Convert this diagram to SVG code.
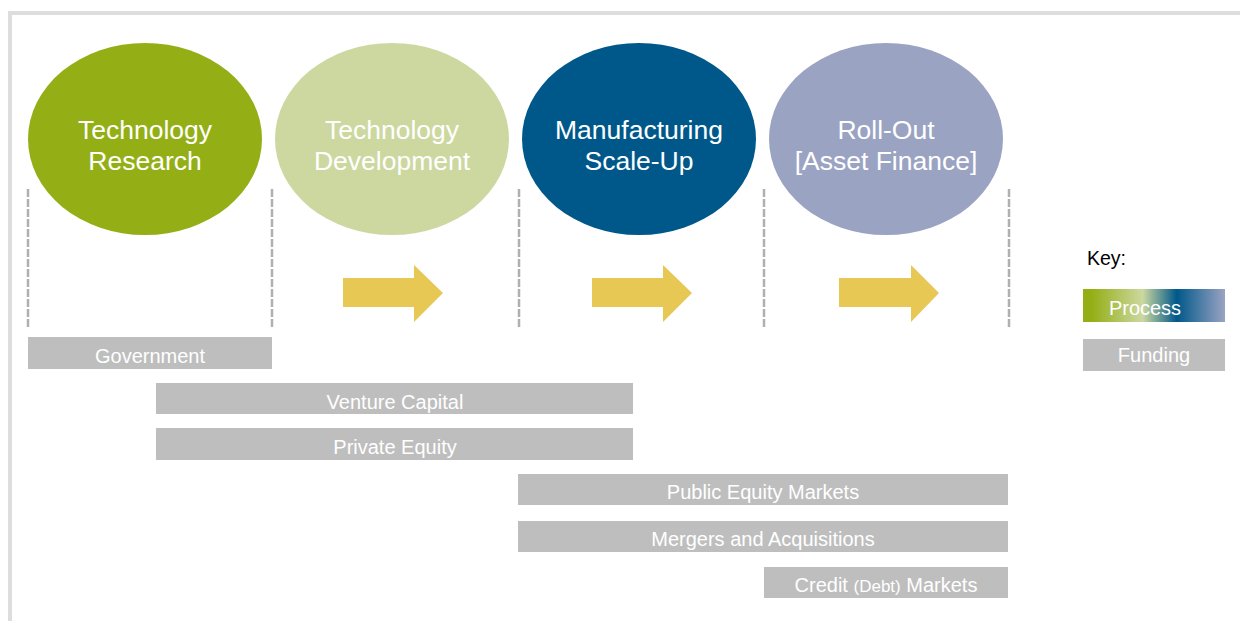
<svg xmlns="http://www.w3.org/2000/svg" width="1240" height="621" viewBox="0 0 1240 621">
<defs>
<linearGradient id="proc" x1="0" y1="0" x2="1" y2="0">
<stop offset="0" stop-color="#93AF15"/>
<stop offset="0.06" stop-color="#93AF15"/>
<stop offset="0.42" stop-color="#CCD8A0"/>
<stop offset="0.66" stop-color="#00588A"/>
<stop offset="1" stop-color="#9AA3C2"/>
</linearGradient>
</defs>
<style>
.t{font-family:"Liberation Sans",Arial,sans-serif;fill:#fff;text-anchor:middle}
.big{font-size:26.5px}
.bar{fill:#BEBEBE}
.bt{font-size:20px}
.dash{stroke:#B0B0B0;stroke-width:2.5;stroke-dasharray:8 2;fill:none}
.arr{fill:#E8C855}
</style>
<rect x="0" y="0" width="1240" height="621" fill="#fff"/>
<path d="M10 621 V13 H1240" fill="none" stroke="#DDDDDD" stroke-width="4"/>
<g id="dividers">
<line class="dash" x1="28" y1="189" x2="28" y2="328"/>
<line class="dash" x1="272" y1="189" x2="272" y2="328"/>
<line class="dash" x1="519" y1="189" x2="519" y2="328"/>
<line class="dash" x1="764" y1="189" x2="764" y2="328"/>
<line class="dash" x1="1009" y1="189" x2="1009" y2="328"/>
</g>
<g id="research">
<ellipse cx="145" cy="139" rx="117" ry="96" fill="#93AF15"/>
<text class="t big" x="145" y="139">Technology</text>
<text class="t big" x="145" y="170">Research</text>
</g>
<g id="development">
<ellipse cx="392" cy="139" rx="117" ry="96" fill="#CCD8A0"/>
<text class="t big" x="392" y="139">Technology</text>
<text class="t big" x="392" y="170">Development</text>
</g>
<g id="manufacturing">
<ellipse cx="639" cy="139" rx="117" ry="96" fill="#00588A"/>
<text class="t big" x="639" y="139">Manufacturing</text>
<text class="t big" x="639" y="170">Scale-Up</text>
</g>
<g id="rollout">
<ellipse cx="886" cy="139" rx="117" ry="96" fill="#9AA3C2"/>
<text class="t big" x="886" y="139">Roll-Out</text>
<text class="t big" x="886" y="170">[Asset Finance]</text>
</g>
<g id="connectors">
<polygon class="arr" points="343,278 414,278 414,265 443,293 414,322 414,307 343,307"/>
<polygon class="arr" points="592,278 663,278 663,265 692,293 663,322 663,307 592,307"/>
<polygon class="arr" points="839,278 911,278 911,265 939,293 911,322 911,307 839,307"/>
</g>
<g id="government">
<rect class="bar" x="28" y="337" width="244" height="32"/>
<text class="t bt" x="150" y="363">Government</text>
</g>
<g id="venture">
<rect class="bar" x="156" y="383" width="477" height="31"/>
<text class="t bt" x="395" y="409">Venture Capital</text>
</g>
<g id="private">
<rect class="bar" x="156" y="428" width="477" height="32"/>
<text class="t bt" x="395" y="454">Private Equity</text>
</g>
<g id="public">
<rect class="bar" x="518" y="474" width="490" height="31"/>
<text class="t bt" x="763" y="499">Public Equity Markets</text>
</g>
<g id="mergers">
<rect class="bar" x="518" y="521" width="490" height="31"/>
<text class="t bt" x="763" y="546">Mergers and Acquisitions</text>
</g>
<g id="credit">
<rect class="bar" x="764" y="567" width="244" height="31"/>
<text class="t bt" x="886" y="592">Credit <tspan font-size="17px">(Debt)</tspan> Markets</text>
</g>
<g id="key">
<text x="1087" y="265" font-family="Liberation Sans,Arial,sans-serif" font-size="19.5px" fill="#000">Key:</text>
<rect x="1083" y="289" width="142" height="33" fill="url(#proc)"/>
<text class="t bt" x="1145" y="315">Process</text>
<rect class="bar" x="1083" y="339" width="142" height="32"/>
<text class="t bt" x="1154" y="362">Funding</text>
</g>
</svg>
